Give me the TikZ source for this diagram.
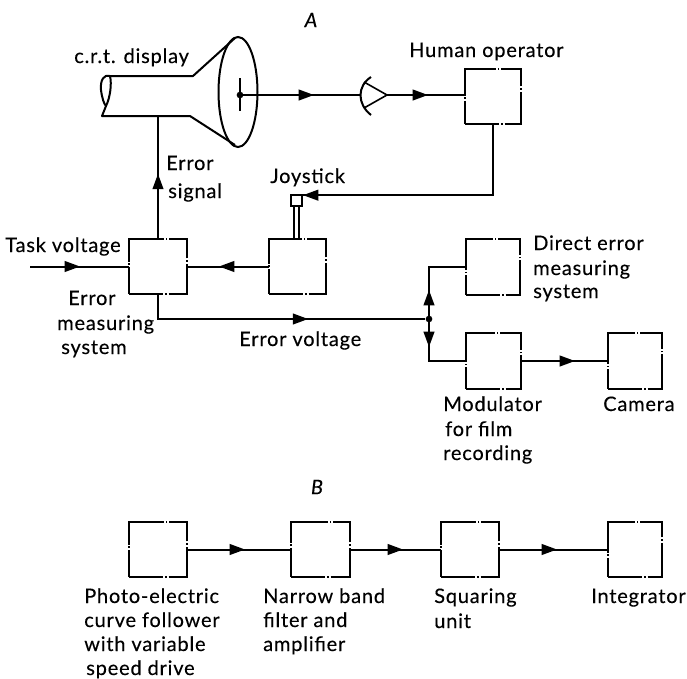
\documentclass[tikz,border=0pt]{standalone}
\usepackage{fontspec}
\setmainfont[LetterSpace=4,FakeBold=0.25]{Lato}
\usetikzlibrary{arrows.meta,decorations.markings,calc}
\tikzset{
  ln/.style={line width=1.5pt},
  dbox/.style={draw,rectangle,line width=1.5pt,inner sep=0pt,outer sep=0pt,minimum width=#1*0.75pt,minimum height=41.5pt,dash pattern=on 25.8pt off 1.4pt on 1.2pt off 1.4pt on 36.6pt off 1.4pt on 1.2pt off 1.4pt on 28.1pt off 1.4pt on 1.2pt off 1.4pt on 43pt off 1.4pt on 1.2pt off 1.4pt on 21.5pt},
  dbox/.default=57,
  headat/.style={postaction={decorate},decoration={markings,mark=at position #1*0.75pt with {\arrow{Triangle[length=11.5pt,width=8pt]}}}},
  lab/.style={anchor=base west,inner sep=0pt,align=left,font=\fontsize{15}{18}\selectfont},
  ital/.style={inner sep=0pt,font=\fontsize{15}{18}\selectfont\itshape},
  junction/.style={circle,fill=black,inner sep=0pt,minimum size=5pt},
}
\begin{document}
\begin{tikzpicture}[x=0.75pt,y=-0.75pt,line join=miter]
\useasboundingbox (0,0) rectangle (687,679);
% boxes
\node[dbox=56] (h) at (493,96.5) {};
\node[dbox=58] (err) at (158,266.5) {};
\node[dbox=57] (joy) at (297.5,266.5) {};
\node[dbox=54] (d) at (493,267) {};
\node[dbox=55] (m) at (493.5,361) {};
\node[dbox=54] (c) at (635,361) {};
\node[dbox=58] (p1) at (158,549.5) {};
\node[dbox=59] (p2) at (320.5,549.5) {};
\node[dbox=58] (p3) at (470,549.5) {};
\node[dbox=54] (p4) at (635,549.5) {};
\node[draw,rectangle,line width=1.3pt,minimum size=8pt,inner sep=0pt,outer sep=0pt] (knob) at (296.5,200.5) {};
% crt
\coordinate (crtb) at (158,116);
\coordinate (scr) at (240,95);
\coordinate (term) at (30,266.5);
\coordinate (eyel) at (360,95);
\coordinate (apex) at (387,95);
\draw[ln,line join=round] (235,38) -- (193,76) -- (110,76) .. controls (104,74) and (100,80) .. (101,90) .. controls (102,98) and (104,104) .. (106,106) -- (102,116) -- (190,116) -- (235,145);
\draw[ln] (110,76) .. controls (112,84) and (110,98) .. (106,106);
\draw[ln] (238,92) ellipse [x radius=19.5,y radius=55];
\draw[line width=1.2pt] (240,78) -- (240,111);
\node[junction] (sd) at (scr) {};
% eye
\draw[ln] (371,77) .. controls (357,86) and (357,104) .. (371,115);
\draw[line width=1.2pt] (364,82) -- (apex) -- (364,108);
% connectors
\draw[ln,headat=65] (err.north) -- (crtb);
\draw[ln,headat=74] (scr) -- (eyel);
\draw[ln,headat=41] (apex) -- (apex -| h.west);
\draw[ln,headat=261] (h.south) |- (knob.north east);
\draw[line width=1.1pt] ([xshift=-1.8pt]knob.south) -- ([xshift=-1.8pt]knob.south |- joy.north);
\draw[line width=1.1pt] ([xshift=1.8pt]knob.south) -- ([xshift=1.8pt]knob.south |- joy.north);
\draw[ln,headat=50] (joy.west) -- (err.east);
\draw[ln,headat=50] (term) -- (err.west);
\node[junction] (j) at (429,319) {};
\draw[ln,headat=175] (err.south) |- (j);
\draw[ln,headat=29] (j.center) |- (d.west);
\draw[ln,headat=28] (j.center) |- (m.west);
\draw[ln,headat=54] (m.east) -- (c.west);
\draw[ln,headat=58] (p1.east) -- (p2.west);
\draw[ln,headat=53] (p2.east) -- (p3.west);
\draw[ln,headat=58] (p3.east) -- (p4.west);
% labels
\node[ital] (ta) at (311,20) {A};
\node[ital] (tb) at (317,487) {B};
\node[lab] (t1) at (74,63) {c.r.t. display};
\node[lab] (t2) at (409,57) {Human operator};
\node[lab] (t3) at (166,170) {Error};
\node[lab] (t3b) at (168,198) {signal};
\node[lab] (t4) at (270,183) {Joystick};
\node[lab] (t5) at (5,252) {Task voltage};
\node[lab] (t6) at (68,305) {Error};
\node[lab] (t6b) at (57,330) {measuring};
\node[lab] (t6c) at (61,354) {system};
\node[lab] (t7) at (239,346) {Error voltage};
\node[lab] (t8) at (533,250) {Direct error};
\node[lab] (t8b) at (533,275) {measuring};
\node[lab] (t8c) at (533,298) {system};
\node[lab] (t9) at (443,411) {Modulator};
\node[lab] (t9b) at (445,436) {for film};
\node[lab] (t9c) at (443,460) {recording};
\node[lab] (t10) at (603,411) {Camera};
\node[lab] (t11) at (84,603) {Photo-electric};
\node[lab] (t11b) at (84,627) {curve follower};
\node[lab] (t11c) at (84,651) {with variable};
\node[lab] (t11d) at (86,675) {speed drive};
\node[lab] (t12) at (263,603) {Narrow band};
\node[lab] (t12b) at (263,627) {filter and};
\node[lab] (t12c) at (263,651) {amplifier};
\node[lab] (t13) at (434,603) {Squaring};
\node[lab] (t13b) at (434,628) {unit};
\node[lab] (t14) at (591,603) {Integrator};
\end{tikzpicture}
\end{document}
